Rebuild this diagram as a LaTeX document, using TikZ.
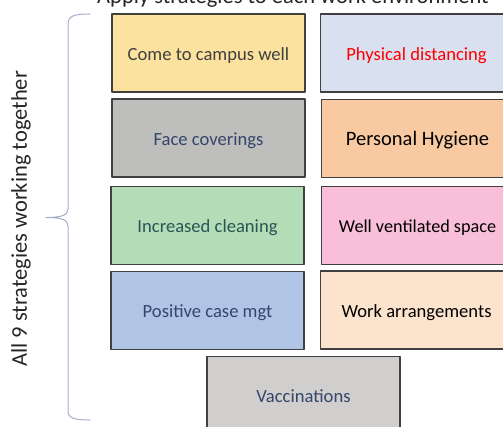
\documentclass[tikz,border=0pt]{standalone}
\usepackage{fontspec}
\setmainfont{Carlito}
\usepackage{xcolor}
\usetikzlibrary{positioning}

\definecolor{yellowbox}{HTML}{FBE29F}
\definecolor{bluegraybox}{HTML}{D9E0F0}
\definecolor{graybox}{HTML}{BEBEBC}
\definecolor{orangebox}{HTML}{F9CAA2}
\definecolor{greenbox}{HTML}{B2DDB6}
\definecolor{pinkbox}{HTML}{F9BFD9}
\definecolor{bluebox}{HTML}{B0C5E6}
\definecolor{peachbox}{HTML}{FCE3CE}
\definecolor{vaccbox}{HTML}{D1CFCD}
\definecolor{boxedge}{HTML}{404040}
\definecolor{bracecol}{HTML}{A3AFC6}
\definecolor{navytext}{HTML}{34466C}
\definecolor{tealtext}{HTML}{2D5454}

\tikzset{
  strategy/.style={draw=boxedge,line width=1.1pt,minimum width=193pt,minimum height=78pt,
    inner sep=0pt,text height=17pt,text depth=2pt,font=\fontsize{18.6}{20}\selectfont,text=boxedge},
  caption/.style={font=\fontsize{22.5}{26}\selectfont,text=black!85}
}

\begin{document}
\begin{tikzpicture}[line cap=round,line join=round,x=1pt,y=-1pt]
		\clip (0,0) rectangle (503,427);
		\useasboundingbox (0,0) rectangle (503,427);
		% title, cut at the top
		\node[caption,anchor=base west,inner sep=0pt] (title) at (97,3.5) {Apply strategies to each work environment};
		% left column
		\node[strategy,fill=yellowbox] (campus) at (208.5,53) {Come to campus well};
		\node[strategy,fill=graybox,text=navytext] (face) at (208.5,138) {Face coverings};
		\node[strategy,fill=greenbox,text=tealtext] (cleaning) at (207.5,225.5) {Increased cleaning};
		\node[strategy,fill=bluebox,text=navytext] (positive) at (207.5,310.5) {Positive case mgt};
		% right column
		\node[strategy,fill=bluegraybox,text=red,anchor=west] (distancing) at (319.5,53) {Physical distancing};
		\node[strategy,fill=orangebox,text=black,anchor=west,font=\fontsize{20.5}{22}\selectfont] (hygiene) at (320.5,138.5) {Personal Hygiene};
		\node[strategy,fill=pinkbox,text=black,anchor=west,font=\fontsize{18.2}{20}\selectfont] (ventilated) at (320.5,225.5) {Well ventilated space};
		\node[strategy,fill=peachbox,text=black,anchor=west] (work) at (319.5,310) {Work arrangements};
		% bottom
		\node[strategy,fill=vaccbox,text=navytext,anchor=north] (vaccines) at (303.5,355.5) {Vaccinations};
		% brace
		\draw[bracecol,line width=1pt] (90,14) .. controls (74,14) and (68,16) .. (68,24) -- (68,209)
		  .. controls (68,215) and (62,217.5) .. (46,217.5) .. controls (62,217.5) and (68,220) .. (68,226)
		  -- (68,411) .. controls (68,418) and (74,420) .. (90,420);
		\node[caption,rotate=90] (together) at (21,219) {All 9 strategies working together};
	\end{tikzpicture}
\end{document}
